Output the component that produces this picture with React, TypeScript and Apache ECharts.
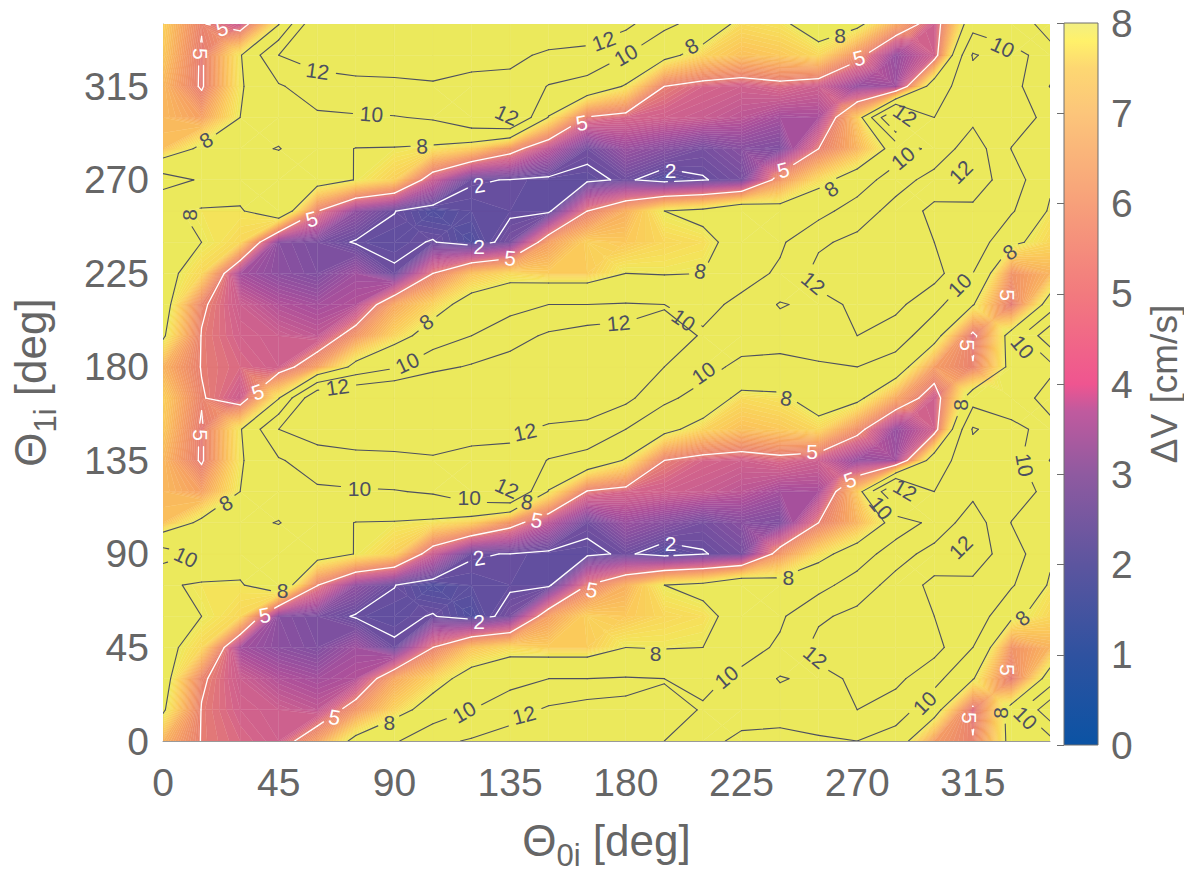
import React, { useEffect, useRef } from "react";
import * as echarts from "echarts";

// Values of delta-V at 15 degree steps; the field repeats every 180 deg of theta1.
const theta0 = [0, 15, 30, 45, 60, 75, 90, 105, 120, 135, 150, 165, 180, 195, 210, 225, 240, 255, 270, 285, 300, 315, 330, 345];
const row00 = [6.5, 4.95, 4.6, 4.3, 6, 8.5, 9.76, 11.5, 12.2, 12.8, 13, 13, 13, 12, 10.7, 9.5, 9.26, 9.67, 10, 9.04, 5.9, 5.1, 8.5, 9.3];
const row15 = [8.2, 4.95, 4.4, 4.2, 3.9, 5.7, 7.3, 8.8, 10, 11.2, 12.3, 13, 13.5, 22, 10.25, 11, 11, 11.5, 12, 11, 8.7, 4.6, 8.7, 13.5];
const row30 = [8.7, 5.15, 4.2, 3.6, 3.3, 3.6, 6.2, 7.3, 8.7, 9.3, 10, 10, 10.1, 10, 9.4, 10.5, 12.15, 11.5, 12.3, 12.5, 10.6, 8.1, 4.85, 8.8];
const row45 = [8.4, 7.4, 3.3, 2.8, 2.5, 3.2, 2.1, 5, 6.8, 7.44, 7.1, 7.1, 8, 7.9, 8, 9.2, 10.3, 12.6, 13, 13, 12.7, 10, 5.6, 6.5];
const row60 = [8.5, 8, 7.4, 2.7, 2.4, 1.93, 1.8, 2.05, 1.5, 2.33, 6, 7.2, 7, 7.4, 7.6, 8.6, 9.7, 11.7, 12.5, 12.8, 12, 11.3, 8.3, 7.4];
const row75 = [8.2, 7.8, 7.8, 9.6, 5.05, 2.9, 2.02, 1.5, 1.8, 1.9, 1.8, 5, 6.4, 8, 8.4, 9.6, 8.7, 9.3, 11, 12.7, 11.7, 11.6, 10.2, 7.8];
const row90 = [10.8, 9.8, 9, 8.9, 8.75, 7.95, 7.2, 4.1, 2.05, 1.98, 1.8, 1.8, 2.13, 1.6, 1.95, 2.3, 5.7, 7.5, 8.8, 11.2, 12.7, 13, 11, 8.3];
const row105 = [6.8, 8.34, 8.3, 7.95, 8.8, 7.95, 7.9, 7.7, 7.1, 5.6, 3.8, 2.2, 3.1, 2.7, 2.3, 2.7, 2.5, 5, 6.5, 8.6, 10.7, 13.1, 9.95, 8.6];
const row120 = [6.6, 6, 8, 8.6, 9.7, 9.8, 9.9, 10.2, 11.5, 12.5, 7.9, 4.9, 4.5, 4.3, 4.1, 3.8, 3.3, 3.4, 7, 15, 10, 11.5, 10.9, 9.5];
const row135 = [6.6, 4.85, 7.8, 9.8, 11, 11.5, 11.6, 11.8, 11.4, 11.5, 9.9, 9.3, 7.85, 5, 4.5, 4.3, 4.6, 4.2, 3, 3.2, 9.2, 11, 10.8, 7.95];
const row150 = [7, 4.85, 7.85, 12, 13, 13, 13, 13, 12.7, 12.4, 11.7, 11.3, 10, 8.5, 7.3, 6.8, 7, 7.4, 5.5, 3, 4.3, 12.2, 10.8, 9];
const row165 = [7.2, 5.1, 4.2, 7.9, 14, 14.5, 14.8, 14.5, 14, 13.5, 13.4, 13.6, 12.5, 10.4, 9.3, 7.5, 7.7, 8.8, 8.4, 6.2, 4.2, 9.1, 8.2, 11.2];
const halfPeriod = [row00, row15, row30, row45, row60, row75, row90, row105, row120, row135, row150, row165];
const field = [...halfPeriod, ...halfPeriod];
const theta1 = field.map((_, j) => j * 15);

const xTicks = { min: 0, max: 345, interval: 45 };
const contourLevels = [2, 5, 8, 10, 12];
const barTicks = { min: 0, max: 8, interval: 1 };

// [theta0, theta1, text, angle]
const contourLabels: [number, number, string, number][] = [
  [22.9, 343, "5", 15], [14.4, 330.6, "5", -90], [60.1, 322.4, "12", -8], [81.1, 301.7, "10", -4],
  [16.7, 289.2, "8", 30], [100.8, 286.3, "8", 2], [10.5, 253.1, "8", 90], [57.8, 251.2, "5", 15],
  [122.9, 267.5, "2", 10], [171.4, 336.8, "12", 20], [180, 330.1, "10", 30], [133.8, 301.2, "12", -25],
  [205.6, 334.4, "8", 30], [162.9, 297.4, "5", 10], [197.4, 274.7, "2", 0], [122.9, 237.7, "2", 0],
  [135, 232.4, "5", -5], [263.4, 339.7, "8", 0], [270.7, 328.6, "5", 15], [326.6, 333.9, "10", -25],
  [288.6, 301.2, "12", -35], [287.8, 280.5, "10", 40], [241.2, 274.7, "5", 15], [259.9, 265.6, "8", 35],
  [310.3, 273.8, "12", 45], [329.3, 235.3, "8", 35], [36.8, 167.9, "5", 20], [67.9, 170.3, "12", 8],
  [95, 181.9, "10", 25], [102.4, 201.6, "8", 35], [177.2, 201.1, "12", 5], [202.5, 202.6, "10", -35],
  [209, 226.1, "8", -10], [140.8, 148.7, "12", 12], [210.2, 177.1, "10", 35], [76.4, 121.7, "10", 0],
  [14.4, 147.2, "5", -90], [24.4, 114.5, "8", 30], [252.9, 220.4, "12", -40], [309.9, 219.4, "10", 45],
  [313, 190.5, "5", -90], [328.5, 214.6, "5", -90], [242.4, 165, "8", -10], [252.5, 139.1, "5", 0],
  [267.2, 125.6, "5", 20], [310.3, 161.7, "8", 90], [335.1, 132.8, "10", -80], [334.3, 189.6, "10", -50],
  [288.6, 120.8, "12", -30], [279.3, 112.1, "10", -50], [141.6, 115, "8", -10], [119.1, 117.4, "10", 0],
  [133.8, 121.7, "12", -25], [145.4, 106.3, "5", -10], [8.9, 88.5, "10", -25], [46.5, 72.2, "8", 0],
  [39.6, 60.6, "5", 10], [122.9, 88.1, "2", 10], [197.4, 94.8, "2", 0], [166.8, 72.7, "5", -10],
  [122.9, 57.7, "2", 0], [191.6, 42.3, "8", 0], [66.7, 11.5, "5", -10], [88, 9.1, "8", 0],
  [117.1, 14, "10", 30], [140.4, 12.5, "12", 15], [219.1, 30.8, "10", 40], [243.2, 78.9, "8", 0],
  [253.7, 40.4, "12", -40], [296.3, 18.3, "10", 45], [310.3, 93.3, "12", 45], [334.3, 59.2, "8", 40],
  [328.5, 34.2, "5", -90], [313.8, 11.1, "5", -90], [325.8, 13.5, "8", 90], [335.5, 11.1, "10", -45],
];

const fillStops: [number, string][] = [
  [0, "#10509f"], [1, "#3a50a0"], [1.5, "#50509f"], [2, "#6a4f9f"], [2.5, "#7f50a0"], [3, "#95509f"],
  [3.5, "#ad509a"], [4, "#c45c92"], [4.5, "#d5658a"], [5, "#e88070"], [6, "#f6a062"], [7, "#fbc85a"],
  [7.7, "#f6e25a"], [8, "#ebe95c"],
];
const barStops: [number, string][] = [
  [0, "#0b53a4"], [1, "#2f52a0"], [2, "#5c559f"], [3, "#8f5aa0"], [3.7, "#c05a9e"], [4, "#ef5590"],
  [5, "#f27a7e"], [6, "#f7a07a"], [7, "#fcc57a"], [7.5, "#fdd772"], [7.8, "#fff16a"], [8, "#f2ef82"],
];

const FONT = "Liberation Sans";
const GREY = "#666666";
const DARK = "#4d5060";

function hex(c: string) {
  return [1, 3, 5].map((k) => parseInt(c.slice(k, k + 2), 16));
}
function colorAt(stops: [number, string][], v: number) {
  if (v <= stops[0][0]) return stops[0][1];
  for (let k = 1; k < stops.length; k++) {
    if (v <= stops[k][0]) {
      const t = (v - stops[k - 1][0]) / (stops[k][0] - stops[k - 1][0]);
      const a = hex(stops[k - 1][1]);
      const b = hex(stops[k][1]);
      return `rgb(${a.map((x, n) => Math.round(x + (b[n] - x) * t)).join(",")})`;
    }
  }
  return stops[stops.length - 1][1];
}

type V = [number, number, number];
function clipAbove(poly: V[], lim: number, sign: number): V[] {
  const out: V[] = [];
  for (let k = 0; k < poly.length; k++) {
    const p = poly[k];
    const q = poly[(k + 1) % poly.length];
    const pin = sign * (p[2] - lim) >= 0;
    const qin = sign * (q[2] - lim) >= 0;
    if (pin) out.push(p);
    if (pin !== qin) {
      const t = (lim - p[2]) / (q[2] - p[2]);
      out.push([p[0] + (q[0] - p[0]) * t, p[1] + (q[1] - p[1]) * t, lim]);
    }
  }
  return out;
}

const STEP = 0.1;
const cells: number[][] = [];
for (let j = 0; j < theta1.length - 1; j++) {
  for (let i = 0; i < theta0.length - 1; i++) cells.push([i, j]);
}

function cellCorners(i: number, j: number): V[] {
  return [
    [theta0[i], theta1[j], field[j][i]],
    [theta0[i + 1], theta1[j], field[j][i + 1]],
    [theta0[i + 1], theta1[j + 1], field[j + 1][i + 1]],
    [theta0[i], theta1[j + 1], field[j + 1][i]],
  ];
}

function isSaddle(q: V[]) {
  const a = Math.min(q[0][2], q[2][2]);
  const b = Math.max(q[0][2], q[2][2]);
  const c = Math.min(q[1][2], q[3][2]);
  const d = Math.max(q[1][2], q[3][2]);
  return a > d || c > b;
}

function renderFill(params: any, api: any) {
  const c = cells[params.dataIndex];
  const quad = cellCorners(c[0], c[1]);
  let pieces: V[][] = [quad];
  if (isSaddle(quad)) {
    const mid: V = [
      (quad[0][0] + quad[1][0]) / 2,
      (quad[0][1] + quad[3][1]) / 2,
      quad.reduce((s, q) => s + q[2], 0) / 4,
    ];
    pieces = quad.map((q, k) => [q, quad[(k + 1) % 4], mid]);
  }
  const children: any[] = [];
  const bands = Math.round(8 / STEP);
  for (const piece of pieces) {
    const vals = piece.map((q) => q[2]);
    const lo = Math.min(...vals);
    const hi = Math.max(...vals);
    for (let b = 0; b <= bands; b++) {
      const a0 = b * STEP;
      const a1 = b === bands ? Infinity : (b + 1) * STEP;
      if (hi < a0 || lo > a1) continue;
      let poly = clipAbove(piece, a0, 1);
      if (a1 !== Infinity && poly.length) poly = clipAbove(poly, a1, -1);
      if (poly.length < 3) continue;
      const color = b === bands ? fillStops[fillStops.length - 1][1] : colorAt(fillStops, a0 + STEP / 2);
      children.push({
        type: "polygon",
        shape: { points: poly.map((p) => api.coord([p[0], p[1]])) },
        style: { fill: color, stroke: color, lineWidth: 0.35 },
      });
    }
  }
  return { type: "group", children };
}

function crossings(quad: V[], level: number) {
  const pts: number[][] = [];
  for (let k = 0; k < 4; k++) {
    const p = quad[k];
    const q = quad[(k + 1) % 4];
    if (p[2] >= level !== q[2] >= level) {
      const t = (level - p[2]) / (q[2] - p[2]);
      pts.push([p[0] + (q[0] - p[0]) * t, p[1] + (q[1] - p[1]) * t]);
    } else pts.push([]);
  }
  return pts;
}

function cutSegment(a: number[], b: number[], c: number[], r: number): number[][][] {
  const dx = b[0] - a[0];
  const dy = b[1] - a[1];
  const fx = a[0] - c[0];
  const fy = a[1] - c[1];
  const A = dx * dx + dy * dy;
  if (A < 1e-9) return [];
  const B = 2 * (fx * dx + fy * dy);
  const C = fx * fx + fy * fy - r * r;
  const D = B * B - 4 * A * C;
  if (D <= 0) return [[a, b]];
  const s = Math.sqrt(D);
  const t0 = (-B - s) / (2 * A);
  const t1 = (-B + s) / (2 * A);
  if (t1 <= 0 || t0 >= 1) return [[a, b]];
  const out: number[][][] = [];
  if (t0 > 0) out.push([a, [a[0] + dx * t0, a[1] + dy * t0]]);
  if (t1 < 1) out.push([[a[0] + dx * t1, a[1] + dy * t1], b]);
  return out;
}

function renderLines(params: any, api: any) {
  const c = cells[params.dataIndex];
  const quad = cellCorners(c[0], c[1]);
  const children: any[] = [];
  for (const level of contourLevels) {
    const pts = crossings(quad, level);
    const have = pts.map((p, k) => (p.length ? k : -1)).filter((k) => k >= 0);
    if (!have.length) continue;
    let pairs: number[][];
    if (have.length === 2) pairs = [have];
    else {
      const mean = quad.reduce((s, q) => s + q[2], 0) / 4;
      pairs = (mean >= level) === (quad[0][2] >= level) ? [[0, 1], [2, 3]] : [[1, 2], [3, 0]];
    }
    for (const [m, n] of pairs) {
      let segs: number[][][] = [[api.coord(pts[m]), api.coord(pts[n])]];
      for (const lab of contourLabels) {
        if (lab[2] !== String(level)) continue;
        const centre = api.coord([lab[0], lab[1]]);
        const r = lab[2].length > 1 ? 19 : 12;
        segs = segs.flatMap((s) => cutSegment(s[0], s[1], centre, r));
      }
      for (const s of segs) {
        children.push({
          type: "line",
          shape: { x1: s[0][0], y1: s[0][1], x2: s[1][0], y2: s[1][1] },
          style: { stroke: level <= 5 ? "#ffffff" : DARK, lineWidth: level <= 5 ? 1.3 : 1.1, lineCap: "round" },
        });
      }
    }
  }
  return { type: "group", children };
}

function renderLabel(params: any, api: any) {
  const lab = contourLabels[params.dataIndex];
  const p = api.coord([lab[0], lab[1]]);
  return {
    type: "text",
    x: p[0],
    y: p[1],
    rotation: (lab[3] * Math.PI) / 180,
    style: {
      text: lab[2],
      fill: lab[2] === "2" || lab[2] === "5" ? "#ffffff" : DARK,
      font: `21px "${FONT}"`,
      align: "center",
      verticalAlign: "middle",
    },
  };
}

function renderBar(_params: any, api: any) {
  const a = api.coord([0, barTicks.max]);
  const b = api.coord([1, barTicks.min]);
  const span = barTicks.max - barTicks.min;
  return {
    type: "rect",
    shape: { x: a[0], y: a[1], width: b[0] - a[0], height: b[1] - a[1] },
    style: {
      fill: new echarts.graphic.LinearGradient(
        0, 1, 0, 0,
        barStops.map((s) => ({ offset: (s[0] - barTicks.min) / span, color: s[1] }))
      ),
      stroke: "#6e6e6e",
      lineWidth: 1,
    },
  };
}

export default function App() {
  const ref = useRef<HTMLDivElement>(null);
  useEffect(() => {
    const chart = echarts.init(ref.current!, undefined, { renderer: "svg" });
    const tick = { color: GREY, fontFamily: FONT, fontSize: 39 };
    const rich = {
      t: { color: GREY, fontFamily: FONT, fontSize: 44 },
      s: { color: GREY, fontFamily: FONT, fontSize: 31, padding: [30, 0, 0, 0] },
    };
    chart.setOption({
      animation: false,
      grid: [
        { left: 163, top: 24, width: 887, height: 717, outerBoundsMode: "none" },
        { left: 1064, top: 23, width: 34, height: 722, outerBoundsMode: "none" },
      ],
      xAxis: [
        {
          gridIndex: 0, type: "value", ...xTicks,
          name: "{t|Θ}{s|0i}{t| [deg]}", nameLocation: "middle", nameGap: 69,
          nameTextStyle: { rich },
          axisLine: { show: true, onZero: false, lineStyle: { color: "#999999" } },
          axisTick: { show: false },
          splitLine: { show: false },
          axisLabel: { ...tick, margin: 22, showMaxLabel: false },
        },
        { gridIndex: 1, type: "value", min: 0, max: 1, show: false },
      ],
      yAxis: [
        {
          gridIndex: 0, type: "value", ...xTicks,
          name: "{t|Θ}{s|1i}{t| [deg]}", nameLocation: "middle", nameGap: 102, nameRotate: 90,
          nameTextStyle: { rich },
          axisLine: { show: true, onZero: false, lineStyle: { color: "#aaaaaa" } },
          axisTick: { show: false },
          splitLine: { show: false },
          axisLabel: { ...tick, margin: 14, showMaxLabel: false },
        },
        {
          gridIndex: 1, type: "value", position: "right", ...barTicks,
          name: "ΔV [cm/s]", nameLocation: "middle", nameGap: 48, nameRotate: 90,
          nameTextStyle: { color: GREY, fontFamily: FONT, fontSize: 37 },
          axisLine: { show: false },
          axisTick: { show: true, inside: true, length: 7, lineStyle: { color: "#6e6e6e" } },
          splitLine: { show: false },
          axisLabel: { ...tick, margin: 13 },
          z: 5,
        },
      ],
      series: [
        { type: "custom", xAxisIndex: 0, yAxisIndex: 0, clip: true, silent: true, data: cells.map((c) => [theta0[c[0]], theta1[c[1]]]), renderItem: renderFill, z: 1 },
        { type: "custom", xAxisIndex: 0, yAxisIndex: 0, clip: true, silent: true, data: cells.map((c) => [theta0[c[0]], theta1[c[1]]]), renderItem: renderLines, z: 2 },
        { type: "custom", xAxisIndex: 0, yAxisIndex: 0, clip: false, silent: true, data: contourLabels.map((l) => [l[0], l[1]]), renderItem: renderLabel, z: 3 },
        { type: "custom", xAxisIndex: 1, yAxisIndex: 1, silent: true, data: [[0, 0]], renderItem: renderBar, z: 1 },
      ],
    });
    return () => chart.dispose();
  }, []);
  return <div ref={ref} style={{ position: "absolute", left: 0, top: 0, width: 1184, height: 874 }} />;
}
